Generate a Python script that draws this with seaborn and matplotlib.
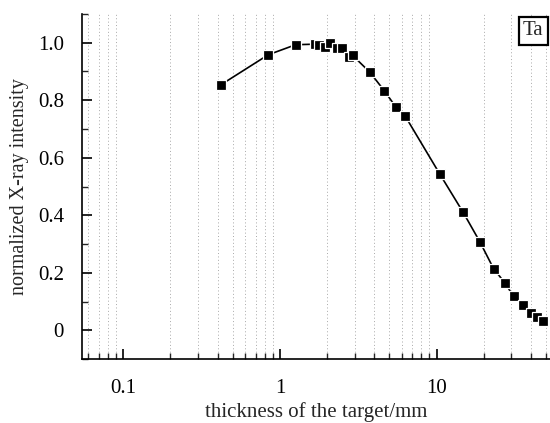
import numpy as np
import pandas as pd
import matplotlib
matplotlib.use("Agg")
import matplotlib.pyplot as plt
import matplotlib.ticker as mticker
import seaborn as sns

thickness_mm = [0.418, 0.842, 1.26, 1.67, 1.78, 1.94, 2.09, 2.32, 2.48, 2.77, 2.91,
                3.76, 4.64, 5.49, 6.29, 10.5, 14.8, 18.9, 23.1, 27.4, 31.0, 35.6,
                40.0, 44.1, 48.1]
intensity = [0.853, 0.958, 0.993, 0.995, 0.993, 0.986, 0.999, 0.982, 0.980, 0.949, 0.956,
             0.897, 0.833, 0.777, 0.746, 0.543, 0.410, 0.308, 0.215, 0.164, 0.118, 0.088,
             0.060, 0.047, 0.033]
y_major = [0, 0.2, 0.4, 0.6, 0.8, 1.0]
y_labels = ["0", "0.2", "0.4", "0.6", "0.8", "1.0"]
x_major = [0.1, 1, 10]
x_labels = ["0.1", "1", "10"]

sns.set_style("ticks")
plt.rcParams['font.family'] = ['Liberation Serif', 'DejaVu Serif']

fig = plt.figure(figsize=(5.5, 4.23), dpi=100)
ax = fig.add_axes([0.149, 0.151, 0.851, 0.816])

df = pd.DataFrame({"t": thickness_mm, "I": intensity})
sns.lineplot(data=df, x="t", y="I", ax=ax, color="black", linewidth=1.2,
             marker="s", markersize=6.5, markerfacecolor="black",
             markeredgecolor="white", markeredgewidth=0.9,
             estimator=None, sort=False, zorder=3)

ax.set_xscale("log")
ax.set_xlim(0.0545, 53)
ax.set_ylim(-0.1, 1.1)

ax.xaxis.set_major_locator(mticker.FixedLocator(x_major))
ax.xaxis.set_major_formatter(mticker.FixedFormatter(x_labels))
ax.xaxis.set_minor_locator(mticker.LogLocator(base=10, subs=np.arange(2, 10)))
ax.xaxis.set_minor_formatter(mticker.NullFormatter())
ax.yaxis.set_major_locator(mticker.FixedLocator(y_major))
ax.yaxis.set_major_formatter(mticker.FixedFormatter(y_labels))
ax.yaxis.set_minor_locator(mticker.MultipleLocator(0.1))

ax.grid(False)
ax.grid(True, which="minor", axis="x", color="#a8a8a8", linestyle=(0, (1, 2.5)), linewidth=0.7)

ax.tick_params(which="major", direction="in", length=7, width=1.2, labelsize=15, colors="black")
ax.tick_params(axis="y", which="major", pad=13)
ax.tick_params(axis="x", which="major", pad=14)
ax.tick_params(which="minor", direction="in", length=4, width=1.0)

for s in ["top", "right"]:
    ax.spines[s].set_visible(False)
for s in ["left", "bottom"]:
    ax.spines[s].set_linewidth(1.2)
    ax.spines[s].set_color("black")

ax.set_xlabel("thickness of the target/mm", fontsize=15, labelpad=3)
ax.set_ylabel("normalized X-ray intensity", fontsize=14.5, labelpad=6)

ax.text(0.964, 0.951, "Ta", transform=ax.transAxes, ha="center", va="center", fontsize=15,
        bbox=dict(boxstyle="square,pad=0.2", facecolor="white", edgecolor="black", linewidth=1.6))

fig.savefig("out.png", dpi=100)
